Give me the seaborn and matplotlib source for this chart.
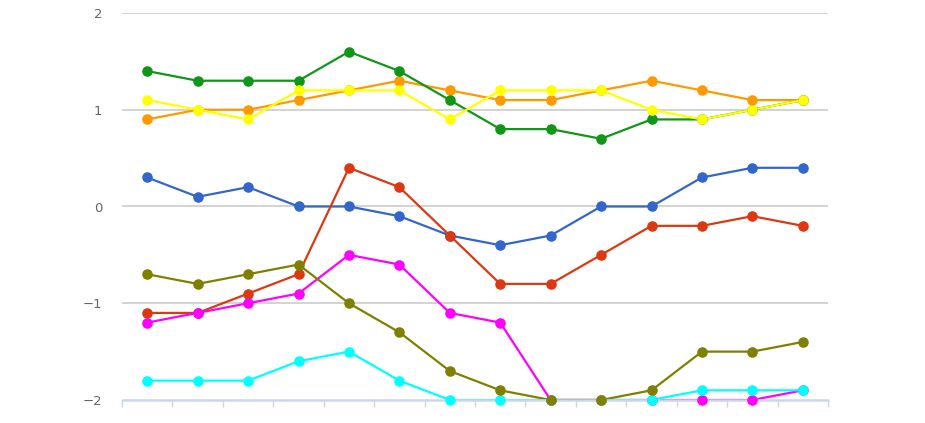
import numpy as np
import pandas as pd
import matplotlib
matplotlib.use("Agg")
import matplotlib.pyplot as plt
import seaborn as sns

#%% data
points = list(range(14))
blue = [0.3, 0.1, 0.2, 0.0, 0.0, -0.1, -0.3, -0.4, -0.3, 0.0, 0.0, 0.3, 0.4, 0.4]
red = [-1.1, -1.1, -0.9, -0.7, 0.4, 0.2, -0.3, -0.8, -0.8, -0.5, -0.2, -0.2, -0.1, -0.2]
orange = [0.9, 1.0, 1.0, 1.1, 1.2, 1.3, 1.2, 1.1, 1.1, 1.2, 1.3, 1.2, 1.1, 1.1]
green = [1.4, 1.3, 1.3, 1.3, 1.6, 1.4, 1.1, 0.8, 0.8, 0.7, 0.9, 0.9, 1.0, 1.1]
yellow = [1.1, 1.0, 0.9, 1.2, 1.2, 1.2, 0.9, 1.2, 1.2, 1.2, 1.0, 0.9, 1.0, 1.1]
magenta = [-1.2, -1.1, -1.0, -0.9, -0.5, -0.6, -1.1, -1.2, -2.0, -2.0, -2.0, -2.0, -2.0, -1.9]
cyan = [-1.8, -1.8, -1.8, -1.6, -1.5, -1.8, -2.0, -2.0, -2.0, -2.0, -2.0, -1.9, -1.9, -1.9]
olive = [-0.7, -0.8, -0.7, -0.6, -1.0, -1.3, -1.7, -1.9, -2.0, -2.0, -1.9, -1.5, -1.5, -1.4]

series = {'blue': blue, 'red': red, 'orange': orange, 'green': green,
          'yellow': yellow, 'magenta': magenta, 'cyan': cyan, 'olive': olive}
colours = {'blue': '#3366cc', 'red': '#dc3912', 'orange': '#ff9900', 'green': '#109618',
           'yellow': '#ffff00', 'magenta': '#ff00ff', 'cyan': '#00ffff', 'olive': '#808000'}

df = pd.concat([pd.DataFrame({'x': points, 'y': v, 's': k}) for k, v in series.items()],
               ignore_index=True)

#%%
sns.set_style('white')
fig = plt.figure(figsize=(9.25, 4.23), dpi=100)
ax = fig.add_axes([122/925, 1-400/423, (828-122)/925, (400-13)/423])

sns.lineplot(data=df, x='x', y='y', hue='s', palette=colours, linewidth=1.6,
             legend=False, ax=ax, zorder=2)
for k in series:
    sub = df[df['s'] == k]
    ax.scatter(sub['x'], sub['y'], s=58, color=colours[k], zorder=4,
               linewidths=0, clip_on=False)

ax.set_xlim(-0.5, 13.5)
ax.set_ylim(-2, 2)
for v in [-1, 0, 1, 2]:
    ax.axhline(v, color='#cccccc', linewidth=1.2, zorder=1)
ax.axhline(-2, color='#ccd6eb', linewidth=1.8, zorder=3, clip_on=False)

ax.set_xticks(np.arange(-0.5, 14, 1))
ax.set_xticklabels([])
ax.tick_params(axis='x', bottom=True, direction='out', length=5, color='#ccd6eb', width=1)
ax.set_yticks([-2, -1, 0, 1, 2])
ax.set_yticklabels(['\u22122', '\u22121', '0', '1', '2'])
ax.tick_params(axis='y', length=0, pad=14, labelsize=9.5, labelcolor='#666666')
for sp in ax.spines.values():
    sp.set_visible(False)
ax.set_xlabel('')
ax.set_ylabel('')

fig.savefig('out.png', dpi=100)
